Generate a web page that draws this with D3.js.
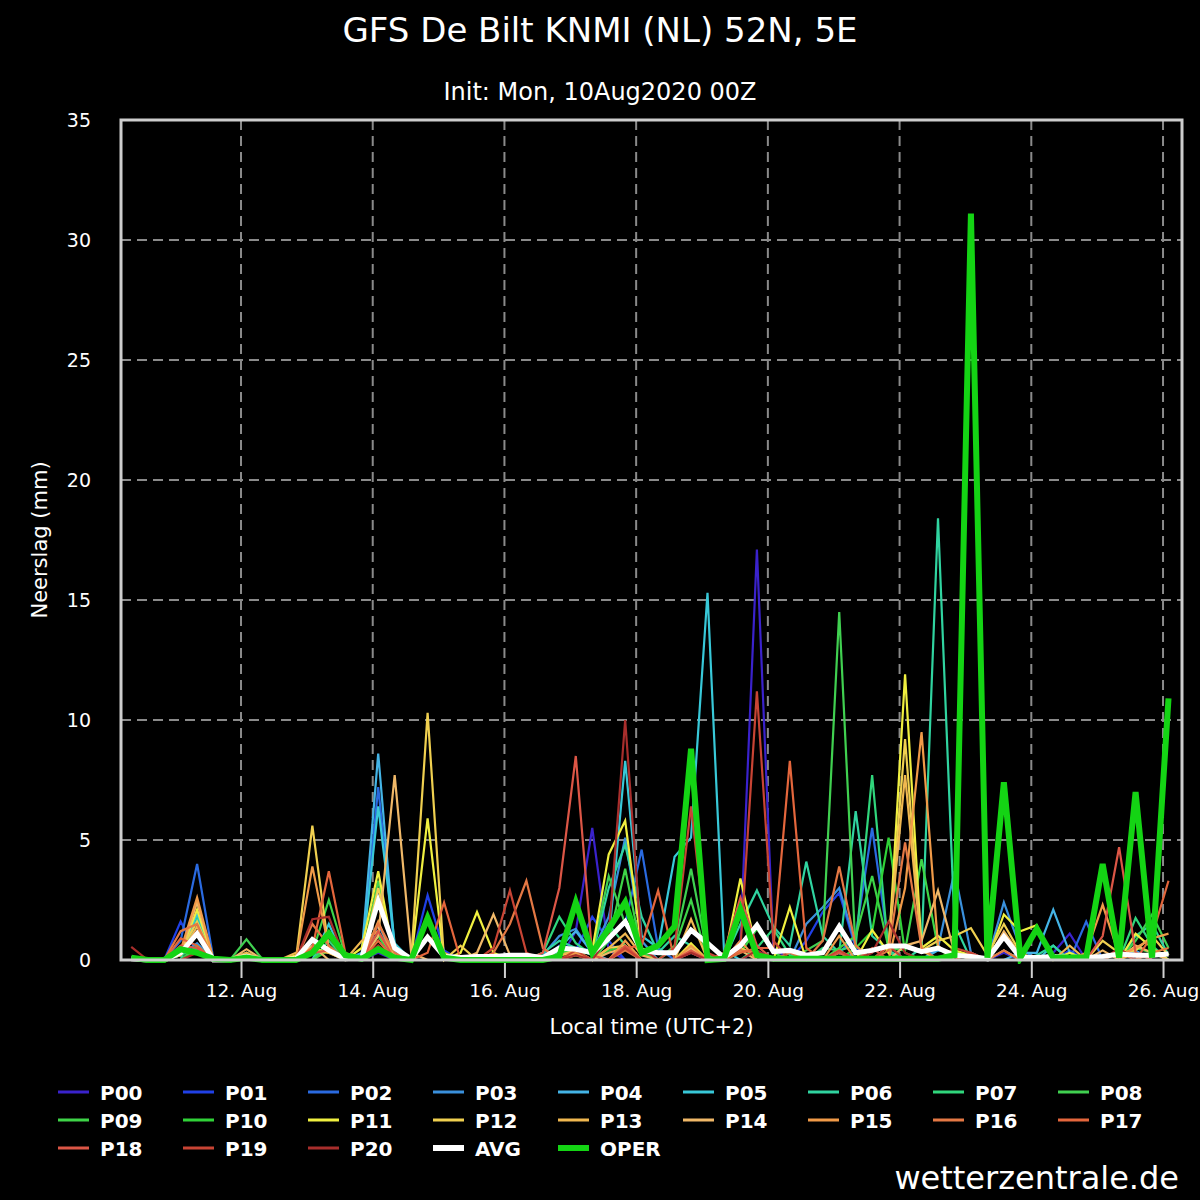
<!DOCTYPE html>
<html>
<head>
<meta charset="utf-8">
<script src="https://cdn.jsdelivr.net/npm/d3@7"></script>
<style>
body { margin: 0; background: #000; }
svg { display: block; font-family: "DejaVu Sans", sans-serif; }
</style>
</head>
<body>
<svg id="chart" width="1200" height="1200"></svg>
<script>
var width = 1200;
var height = 1200;

// first value, local time (UTC+2), one value every 6 hours
var firstStep = "2020-08-10T08:00";
var stepHours = 6;
var tickDays = ["2020-08-12","2020-08-14","2020-08-16","2020-08-18"
               ,"2020-08-20","2020-08-22","2020-08-24","2020-08-26"];
var yTicks = [0,5,10,15,20,25,30,35];

var names = ["P00","P01","P02","P03","P04","P05","P06","P07","P08"
            ,"P09","P10","P11","P12","P13","P14","P15","P16","P17"
            ,"P18","P19","P20"];

var colors = ["#3a22cc","#2040e6","#2a6ae0","#3a90dc","#44b4e6","#38c8d8","#30d4a0"
             ,"#30d67c","#40d050","#3ed448","#30d238","#f0f040","#f0d050","#f0b850"
             ,"#f0b868","#f09a48","#e47844","#e4663c","#dc5646","#c84434","#a82e2c"];

var members = [
  // P00
  [0,0,0,0.3,0.5,0,0,0, 0,0,0,0,0,0,0,0.3, 0,0,0,0,0,0,0,0, 0,0,0,1.2,5.5,0.4,0,0,
   0,0,0.3,0,0,0.8,17.1,0.5, 0,0,0,0,0,0,0,0, 0,0,0,0,0,0.3,0,0, 0.3,1.1,0,0,0,0,0,0],
  // P01
  [0,0,0,1.6,0.3,0,0,0, 0,0,0,0,0,0,0,1.5, 0.2,0,2.7,0.4,0,0,0,0, 0,0,0.6,0.4,1.8,0.8,0,0,
   0,0,0,0,0,0,0.4,0, 0,0.8,2.0,2.8,0.5,0,0,0, 0,0,0,0,0,0,0,0, 0,0.4,0,0,0,0,0,0],
  // P02
  [0,0,0,0.8,4.0,0,0,0, 0,0,0,0,0,0,0,7.2, 0.4,0,0,0,0,0,0,0, 0,0,0.3,0.5,0.4,1.0,1.5,4.6,
   0.5,0,0,0,0,0,0,0, 0,0,0,0.3,1.0,5.5,0.6,0, 0,0,0,0,0,0.4,0,0, 0.2,0,1.6,0,0,0,0,0],
  // P03
  [0,0,0,0.2,0.7,0,0,0, 0,0,0,0,0,0,0,1.5, 0,0,0,0,0,0,0,0, 0,0.2,1.0,1.3,0.3,1.8,5.1,0.8,
   0,0,0,0,0,0,0,0, 0,1.5,2.2,3.0,0.6,0,0,0, 0,0.5,3.7,0.3,0,2.4,0.5,0, 0,0,0,0,0,0.4,0,0],
  // P04
  [0,0,0,0,0.5,0,0,0, 0,0,0,0,0,0,0.3,8.6, 0.5,0,0,0,0,0,0,0, 0,0,0.5,1.2,0.3,0,0.6,0,
   0,0,0,0,0,0,0,0, 0,0,0,0,0.3,0,0,0, 0,0.4,0.3,0,0,0,0.3,0.3, 2.1,0.3,0,0,0,0,0,0],
  // P05
  [0,0,0,0.2,1.9,0,0,0, 0,0,0,0,1.5,0,0,6.4, 0.7,0,0,0,0,0,0,0, 0,0,0.4,0.3,0,0.8,8.3,1.0,
   0.5,4.3,5.1,15.3,0.4,0,0,0, 0,0,0,0,0,0,0,0, 0,0,0.4,0,0,0,0,0, 0.6,0,0,0,0,0,0,0],
  // P06
  [0,0,0,0,1.7,0,0,0, 0,0,0,0,0.6,0,0,1.0, 0,0,0,0,0,0,0,0, 0,0.3,0.8,0.5,0.2,3.0,4.8,1.8,
   0.3,1.0,0.6,0,0,1.5,2.9,1.4, 0.6,4.1,1.0,0.3,6.2,1.0,0.4,0, 0.5,18.4,1.5,0,0,0,0,0.2, 0.6,0,0,0,0,1.0,1.5,0.2],
  // P07
  [0,0,0,0.2,0.5,0,0,0.3, 0,0,0,0,0.8,0,0,0.5, 0,0,0,0,0,0,0,0, 0,0.3,1.8,0.7,0.2,1.5,0.6,0,
   0,0,0.4,0,0,0,0.5,1.3, 0.2,0,0.5,0.4,0.6,7.7,0.3,0, 0,0,0,0,0,0,0,0, 0,0,0,0,0,1.75,0.6,0],
  // P08
  [0,0,0,0,0.6,0,0,0.86, 0,0,0,0,0.5,0,0,3.3, 0,0,0,0,0,0,0,0, 0,0,0.5,0.3,0.3,3.5,1.5,0.3,
   0,0.6,3.8,0.2,0,0,0,0, 0,0.4,0.8,14.5,0.3,0,0,0, 0,0,0,0,0,0,0,0, 0,0,0,0,0,0.8,1.9,0.5],
  // P09
  [0,0,0,0.4,0.3,0,0,0, 0,0,0,0.3,2.5,0.2,0,1.0, 0,0,0,0,0,0,0,0, 0,0,0.3,0.4,0,0.8,3.8,0.3,
   0,0.5,2.5,0,0,0.3,1.3,0.3, 0,0,0,0.5,1.0,3.5,0.5,0.4, 4.2,0.5,0,0,0,0,0,0, 0,0,0,0,0.3,0.5,0.3,0],
  // P10
  [0,0,0,0,0.4,0,0,0, 0,0,0,0,0.4,0,0,0.4, 0,0,0,0,0,0,0,0, 0,0,0,0,0,0.4,0.6,0,
   0,0,0.5,0,0,0,0,0, 0,0,0,0,0.5,1.2,5.1,0.3, 0,0,0,0,0,0,0,0, 0,0,0,0,0,0,0,0],
  // P11
  [0,0,0,0.3,2.1,0,0,0, 0,0,0.2,0.5,0.3,0,0.5,3.7, 0,0,5.9,0,0.3,2.0,0.3,0, 0,0,0.2,0.3,0.4,4.4,5.8,0.5,
   0,0,0.7,0,0,3.4,0.3,0, 2.2,0,0,0,0,1.25,0.3,11.9, 0.5,1.0,0.4,0.2,0,1.9,1.2,1.45, 0,0.3,0,0,0,1.1,0.5,0],
  // P12
  [0,0,0,0.4,1.6,0,0,0, 0,0,0,5.6,0.4,0,0,3.0, 0.2,0,10.3,0,0.6,0,0,0, 0,0,0,0.2,0,0.5,0.6,0,
   0,0,0.4,0,0,0.5,0.2,0, 0,0,0,0,0,0,0.6,9.2, 0.4,0.8,1.0,1.33,0.2,1.5,0.3,0, 0,0,0,0.8,0.3,0.4,1.0,0.2],
  // P13
  [0,0,0,0.2,1.4,0,0,0.3, 0,0,0.3,0.4,0.3,0,0.8,1.2, 0,0,1.0,0.3,0,0,0,0, 0,0,0.2,0.4,0,0.5,1.1,0.2,
   0,0,1.7,0,0,1.9,0.3,0, 0,0,0,0.3,0,0,0.6,7.7, 0.4,0,0,0,0,0.4,0,0, 0,0.6,0,0,0,0.3,0,0],
  // P14
  [0,0,0,0.3,2.4,0,0,0.45, 0,0,0,0.6,0,0,0,1.0, 7.7,0.3,0,0,0,0.3,1.9,0.2, 0,0,0,0.3,0,0.3,0.5,0,
   0,0,0.5,0,0,0.4,0,0, 0,0,0,0.4,0,0,0,0.6, 0.8,2.9,0.3,0,0,1.2,0.2,0, 0,0,0,0.4,0,0.6,0.3,0],
  // P15
  [0,0,0,0.4,2.6,0,0,0, 0,0,0,3.9,0.5,0,0,1.6, 0,0,0,0,0,0,0,0, 0,0,0,0.3,0,0,0.8,0,
   0,0,0.6,0,0,0.8,0,0, 0,0,0,1.0,0,0,0,3.0, 9.5,0.6,0,0,0,0,0,0, 0,0,0.3,2.3,0.2,0.5,0.9,1.1],
  // P16
  [0,0,0,1.2,1.5,0,0,0, 0,0,0,1.5,0.6,0,0,1.5, 0.3,0,0,0,0,0,0.3,1.5, 3.3,0.5,0,0,0,0,0.4,0,
   0,0,0.3,0,0,0.4,0.3,0, 0.3,0,0.8,3.9,0.6,0,0.4,4.9, 0.5,0,0,0,0,0.4,0,0, 0,0,0,0,0,0,0.3,0.5],
  // P17
  [0,0,0,0.9,0.6,0,0,0, 0,0,0,0.5,3.7,0.3,0,0.8, 0,0,0.3,2.4,0,0,0,0, 0,0,0,0,0,0,0.5,0.6,
   2.9,0,0,0,0,0.3,0.5,0.5, 8.3,0.5,0,0,0,0,0,0, 0,0,0,0,0,0,0,0, 0,0,0,0,0.3,0,1.0,3.3],
  // P18
  [0,0,0,0.6,0.5,0,0,0, 0,0,0,0.3,0.4,0,0,1.2, 0,0,0,0,0,0,0,0, 0,0.3,3.0,8.5,0.2,0,0.6,0,
   0,0,0.4,0,0.3,2.6,0.6,0, 0,0,0,0.3,0,0.5,0,0, 0,0,0,0.3,0,0,0,0, 0,0,0,1.0,4.7,0.3,0,0],
  // P19
  [0,0,0,0.3,1.2,0,0,0, 0,0,0,0.3,1.0,0,0,0.6, 0,0,0,0,0,0,0.5,2.9, 0.3,0,0,0.4,0,0,0.5,0,
   0,0.5,6.4,0.3,0,0.5,11.2,0.8, 0,0,0,0.4,0,0,0.6,0, 0,0,0.5,0.3,0,0,0,0, 0,0,0,0,0,0,0,0],
  // P20
  [0.55,0,0,0,0.3,0,0,0, 0,0,0,1.7,1.8,0,0,0.6, 0,0,0,0,0,0,0,0, 0,0,0,0.2,0,1.0,10.0,0.5,
   0,0,0.3,0,0,0,0.4,0, 0,0,0,0,0,0.3,1.6,0.3, 0,0,0,0,0,0,0,0, 0,0,0,0,0.5,0,0,0]
];

var avg = [0.05,0,0,0.3,1.1,0,0,0.15, 0,0,0.05,0.85,0.4,0.05,0.1,2.45,
           0.5,0.05,0.95,0.15,0.1,0.15,0.15,0.2, 0.2,0.1,0.5,0.45,0.3,0.9,1.6,0.4,
           0.3,0.3,1.25,0.7,0.1,0.6,1.45,0.35, 0.4,0.2,0.3,1.4,0.3,0.4,0.58,0.58,
           0.35,0.5,0.2,0.15,0.05,0.97,0.1,0.1, 0.15,0.1,0.1,0.15,0.25,0.2,0.2,0.25];

var oper = [0.1,0,0,0.45,0.3,0.05,0,0.1, 0,0,0,0.3,1.1,0.2,0.05,0.45,
            0.1,0,1.75,0.1,0,0,0,0, 0,0,0.15,2.4,0.3,1.3,2.4,0.3,
            0.6,1.4,8.8,0,0.05,2.1,0.2,0.05, 0.05,0.05,0.05,0.05,0.05,0.05,0.05,0.05,
            0.05,0.05,0.2,31.1,0.1,7.4,0.1,1.3, 0.1,0.1,0.1,4.0,0.1,7.0,0.1,10.9];


var plot = {left: 121, right: 1182, top: 120, bottom: 960};

// local times are kept as UTC dates so the labels read in local time
var t0 = Date.parse(firstStep + ":00Z");
var times = oper.map(function(d, i) { return new Date(t0 + i * stepHours * 3600e3); });

var x = d3.scaleUtc()
    .domain([new Date(Date.UTC(2020,7,10,4,16)), new Date(Date.UTC(2020,7,26,6,55))])
    .range([plot.left, plot.right]);

var y = d3.scaleLinear()
    .domain([0, 35])
    .range([plot.bottom, plot.top]);

var svg = d3.select("#chart");

svg.append("rect")
    .attr("width", width)
    .attr("height", height)
    .attr("fill", "#000");

// grid
var tickDates = tickDays.map(function(d) { return new Date(d + "T00:00:00Z"); });

svg.append("g")
    .selectAll("line")
    .data(yTicks.filter(function(d) { return d > 0 && d < 35; }))
    .enter()
    .append("line")
    .attr("x1", plot.left)
    .attr("x2", plot.right)
    .attr("y1", function(d) { return y(d); })
    .attr("y2", function(d) { return y(d); })
    .attr("stroke", "#8a8a8a")
    .attr("stroke-width", 2)
    .attr("stroke-dasharray", "10,6");

svg.append("g")
    .selectAll("line")
    .data(tickDates)
    .enter()
    .append("line")
    .attr("x1", function(d) { return x(d); })
    .attr("x2", function(d) { return x(d); })
    .attr("y1", plot.top)
    .attr("y2", plot.bottom)
    .attr("stroke", "#8a8a8a")
    .attr("stroke-width", 2)
    .attr("stroke-dasharray", "10,6");

// axes
var xAxis = svg.append("g")
    .attr("transform", "translate(0," + plot.bottom + ")")
    .call(d3.axisBottom(x)
        .tickValues(tickDates)
        .tickSize(18)
        .tickPadding(6)
        .tickFormat(d3.utcFormat("%d. %b")));
xAxis.select(".domain").remove();
xAxis.selectAll(".tick line").attr("stroke", "#d0d0d0").attr("stroke-width", 2);
xAxis.selectAll(".tick text")
    .attr("fill", "#fff")
    .attr("font-family", "DejaVu Sans")
    .attr("font-size", 18.5)
    .attr("dy", "0.71em");

var yAxis = svg.append("g")
    .attr("transform", "translate(" + plot.left + ",0)")
    .call(d3.axisLeft(y)
        .tickValues(yTicks)
        .tickSize(0)
        .tickPadding(30));
yAxis.select(".domain").remove();
yAxis.selectAll(".tick text")
    .attr("fill", "#fff")
    .attr("font-family", "DejaVu Sans")
    .attr("font-size", 19);

// series
svg.append("defs")
    .append("clipPath")
    .attr("id", "clip")
    .append("rect")
    .attr("x", plot.left)
    .attr("y", plot.top)
    .attr("width", plot.right - plot.left)
    .attr("height", plot.bottom - plot.top + 4);

var line = d3.line()
    .x(function(d, i) { return x(times[i]); })
    .y(function(d) { return y(d); });

var series = members.map(function(v, k) {
    return {name: names[k], values: v, color: colors[k], width: 2.2};
});
series.push({name: "AVG", values: avg, color: "#ffffff", width: 5});
series.push({name: "OPER", values: oper, color: "#14d414", width: 6});

svg.append("g")
    .attr("clip-path", "url(#clip)")
    .selectAll("path")
    .data(series)
    .enter()
    .append("path")
    .attr("d", function(d) { return line(d.values); })
    .attr("fill", "none")
    .attr("stroke", function(d) { return d.color; })
    .attr("stroke-width", function(d) { return d.width; });

// frame
svg.append("rect")
    .attr("x", plot.left)
    .attr("y", plot.top)
    .attr("width", plot.right - plot.left)
    .attr("height", plot.bottom - plot.top)
    .attr("fill", "none")
    .attr("stroke", "#cdcdcd")
    .attr("stroke-width", 3);

// titles
svg.append("text")
    .attr("x", 600).attr("y", 42)
    .attr("text-anchor", "middle")
    .attr("fill", "#fff")
    .attr("font-size", 34)
    .text("GFS De Bilt KNMI (NL) 52N, 5E");

svg.append("text")
    .attr("x", 600).attr("y", 100)
    .attr("text-anchor", "middle")
    .attr("fill", "#fff")
    .attr("font-size", 24)
    .text("Init: Mon, 10Aug2020 00Z");

svg.append("text")
    .attr("transform", "translate(47,540) rotate(-90)")
    .attr("text-anchor", "middle")
    .attr("fill", "#fff")
    .attr("font-size", 21)
    .text("Neerslag (mm)");

svg.append("text")
    .attr("x", (plot.left + plot.right) / 2).attr("y", 1034)
    .attr("text-anchor", "middle")
    .attr("fill", "#fff")
    .attr("font-size", 21)
    .text("Local time (UTC+2)");

// legend
var legend = svg.append("g")
    .selectAll("g")
    .data(series)
    .enter()
    .append("g")
    .attr("transform", function(d, k) {
        return "translate(" + (58 + 125 * (k % 9)) + "," + (1092 + 28 * Math.floor(k / 9)) + ")";
    });

legend.append("line")
    .attr("x1", 0).attr("x2", 31)
    .attr("stroke", function(d) { return d.color; })
    .attr("stroke-width", function(d) { return d.width > 3 ? 6 : 3; });

legend.append("text")
    .attr("x", 42).attr("y", 7.5)
    .attr("fill", "#fff")
    .attr("font-size", 20)
    .attr("font-weight", "bold")
    .text(function(d) { return d.name; });

svg.append("text")
    .attr("x", 1179).attr("y", 1189)
    .attr("text-anchor", "end")
    .attr("fill", "#fff")
    .attr("font-size", 32)
    .text("wetterzentrale.de");
</script>
</body>
</html>
